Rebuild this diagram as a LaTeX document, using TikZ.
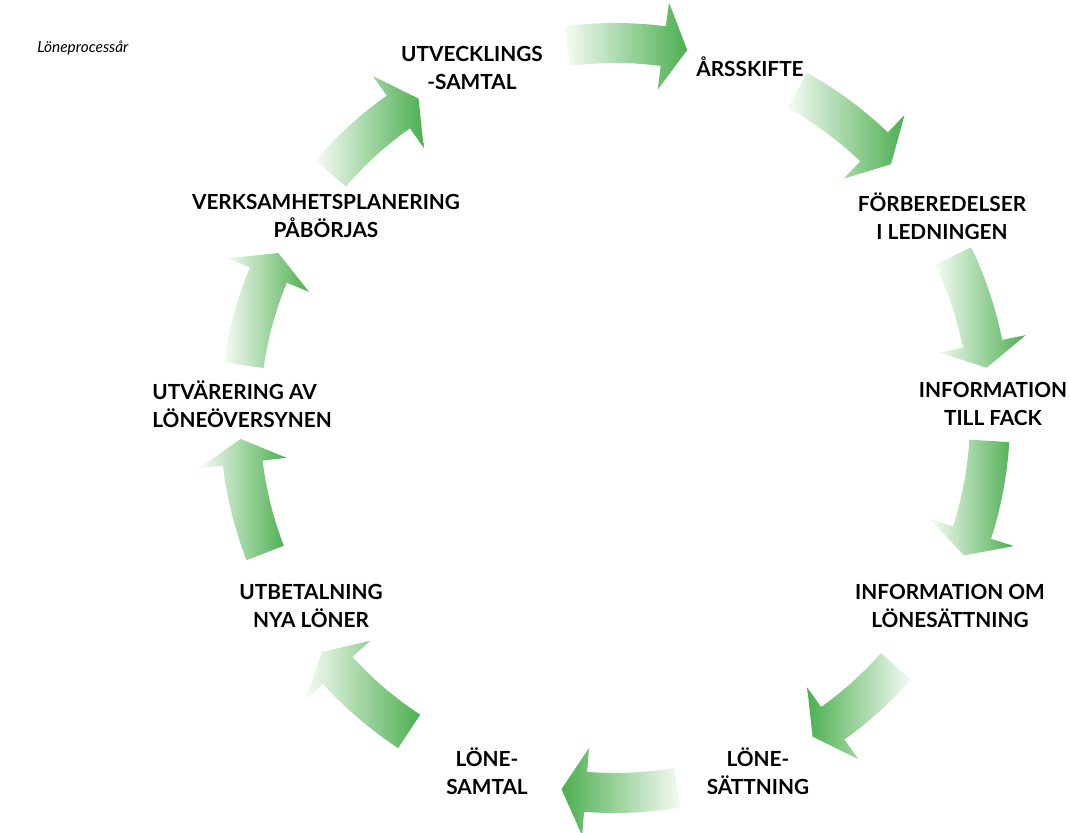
\documentclass[tikz,border=0pt]{standalone}
\usepackage{fontspec}
\setmainfont{Lato}
\usepackage{tikz}
\definecolor{cyclegreen}{HTML}{4CAF50}
\definecolor{cyclepale}{HTML}{F6FBF5}

% curved arrow on the cycle: #1 tail angle, #2 tip angle, #3 shading
\newcommand{\cyclearrow}[3]{%
  \shade[#3] (#1:395) arc[start angle=#1, end angle=#2+3.7, radius=395]
    -- (#2+3.7:419) -- (#2:375) -- (#2+3.7:331) -- (#2+3.7:355)
    arc[start angle=#2+3.7, end angle=#1, radius=355] -- cycle;}

\begin{document}
\begin{tikzpicture}[
    x=0.5pt, y=0.5pt,
    steplabel/.style={font=\bfseries\fontsize{10.4}{13.75}\selectfont, align=center, inner sep=0pt},
    toright/.style={left color=cyclepale, right color=cyclegreen},
    toleft/.style={left color=cyclegreen, right color=cyclepale},
]
    \useasboundingbox (0,0) rectangle (1070,833);

    \node[font=\itshape\fontsize{7.7}{10}\selectfont, anchor=west, inner sep=0pt] (title) at (37,785) {Löneprocessår};

    % arrows round the cycle
    \begin{scope}[shift={(615,415)}]
        \cyclearrow{97.3}{78.9}{toright}
        \cyclearrow{60.9}{42.6}{toright}
        \cyclearrow{25.6}{7.7}{toright}
        \cyclearrow{-3.5}{-21.5}{toright}
        \cyclearrow{-41.5}{-58.2}{toleft}
        \cyclearrow{-80.4}{-98.2}{toleft}
        \cyclearrow{-123.3}{-141.4}{toright}
        \cyclearrow{-158.9}{-176.8}{toright}
        \cyclearrow{171.9}{153.9}{toright}
        \cyclearrow{139.3}{121.6}{toright}
    \end{scope}

    % steps
    \node[steplabel] (utveckling) at (472,765) {UTVECKLINGS\\-SAMTAL};
    \node[steplabel] (arsskifte) at (750,766) {ÅRSSKIFTE};
    \node[steplabel] (forberedelser) at (942,617) {FÖRBEREDELSER\\I LEDNINGEN};
    \node[steplabel] (infofack) at (993,429) {INFORMATION\\TILL FACK};
    \node[steplabel] (infolon) at (950,227) {INFORMATION OM\\LÖNESÄTTNING};
    \node[steplabel] (lonesattning) at (758,62) {LÖNE-\\SÄTTNING};
    \node[steplabel] (lonesamtal) at (487,62) {LÖNE-\\SAMTAL};
    \node[steplabel] (utbetalning) at (311,227) {UTBETALNING\\NYA LÖNER};
    \node[steplabel, align=left, anchor=west] (utvardering) at (152,429) {UTVÄRERING AV\\LÖNEÖVERSYNEN};
    \node[steplabel] (verksamhet) at (326,617) {VERKSAMHETSPLANERING\\PÅBÖRJAS};
\end{tikzpicture}
\end{document}
